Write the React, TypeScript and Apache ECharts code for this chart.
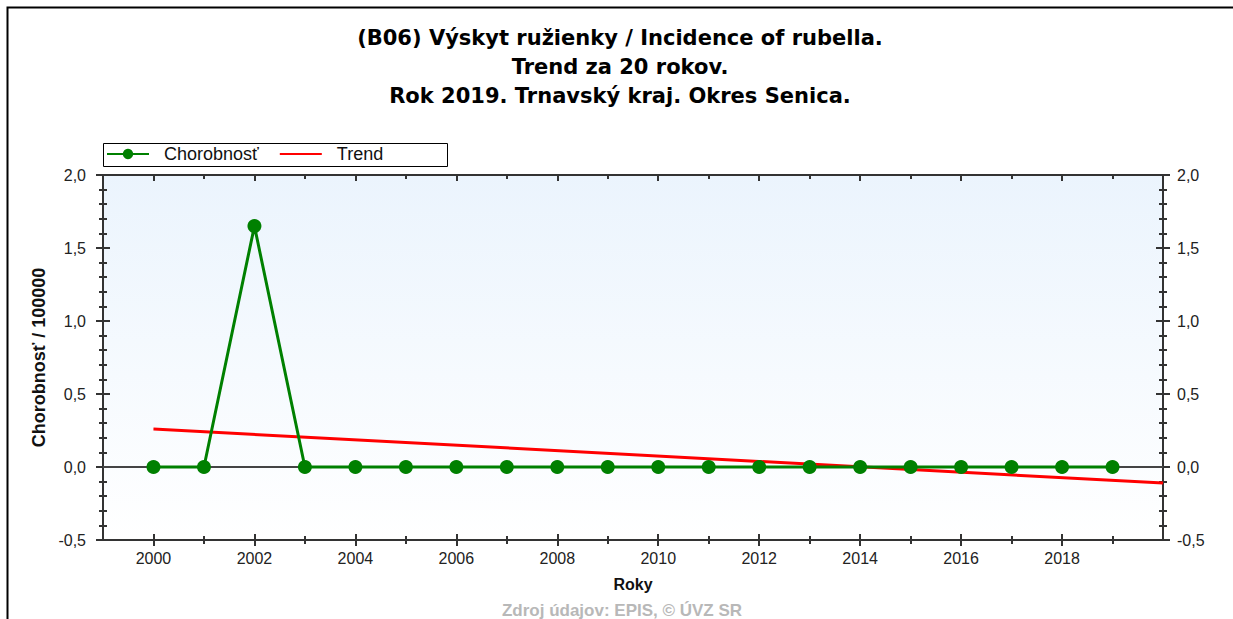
import React, { useEffect, useRef } from "react";
import * as echarts from "echarts";

const years = [2000, 2001, 2002, 2003, 2004, 2005, 2006, 2007, 2008, 2009, 2010, 2011, 2012, 2013, 2014, 2015, 2016, 2017, 2018, 2019];
const incidence = [0, 0, 1.65, 0, 0, 0, 0, 0, 0, 0, 0, 0, 0, 0, 0, 0, 0, 0, 0, 0];
const trendYears = [2000, 2020];
const trendValues = [0.26, -0.11];
const labelYears = [2000, 2002, 2004, 2006, 2008, 2010, 2012, 2014, 2016, 2018];
const minorYears = [2001, 2003, 2005, 2007, 2009, 2011, 2013, 2015, 2017, 2019];
const titleLines = [
  "(B06) Výskyt ružienky / Incidence of rubella.",
  "Trend za 20 rokov.",
  "Rok 2019. Trnavský kraj. Okres Senica.",
];

const AXIS_COLOR = "#333";
const FONT = "Liberation Sans, Arial, sans-serif";

function xAx(position: string, ticks: number[], len: number, inside: boolean, extra: any = {}) {
  return {
    type: "value",
    position,
    min: 1999,
    max: 2020,
    interval: 1,
    axisLine: { show: true, onZero: false, lineStyle: { color: AXIS_COLOR, width: 2 } },
    axisTick: { show: true, customValues: ticks, length: len, inside, lineStyle: { color: AXIS_COLOR, width: 2 } },
    axisLabel: { show: false },
    splitLine: { show: false },
    ...extra,
  };
}

function yAx(position: string, inside: boolean, extra: any = {}) {
  return {
    type: "value",
    position,
    min: -0.5,
    max: 2.0,
    interval: 0.5,
    axisLine: { show: true, onZero: false, lineStyle: { color: AXIS_COLOR, width: 2 } },
    axisTick: { show: true, length: 7, inside, lineStyle: { color: AXIS_COLOR, width: 2 } },
    minorTick: { show: true, splitNumber: 5, length: 4, lineStyle: { color: AXIS_COLOR, width: 2 } },
    axisLabel: { show: false },
    splitLine: { show: false },
    minorSplitLine: { show: false },
    ...extra,
  };
}

const yLabelBase = {
  show: true,
  fontSize: 16,
  fontFamily: FONT,
  color: "#222",
  formatter: (v: number) => v.toFixed(1).replace(".", ","),
};

export default function App() {
  const ref = useRef<HTMLDivElement>(null);
  useEffect(() => {
    if (!ref.current) return;
    const chart = echarts.init(ref.current, null, { renderer: "svg" });
    chart.setOption({
      animation: false,
      backgroundColor: "#fff",
      grid: {
        left: 103,
        right: 70,
        top: 175,
        bottom: 79,
        show: true,
        borderWidth: 0,
        backgroundColor: new echarts.graphic.LinearGradient(0, 0, 0, 1, [
          { offset: 0, color: "#ebf4fd" },
          { offset: 1, color: "#ffffff" },
        ]),
      },
      legend: {
        left: 106,
        top: 145,
        padding: 0,
        itemWidth: 42,
        itemHeight: 13,
        itemGap: 20,
        data: ["Chorobnosť", { name: "Trend", itemStyle: { opacity: 0 } }],
        textStyle: { fontSize: 18, fontFamily: FONT, color: "#111", padding: [0, 0, 0, 10] },
      },
      xAxis: [
        xAx("bottom", labelYears, 6, false, {
          name: "Roky",
          nameLocation: "middle",
          nameGap: 36,
          nameTextStyle: { fontSize: 16, fontWeight: "bold", fontFamily: FONT, color: "#111" },
          axisLabel: {
            show: true,
            customValues: labelYears,
            margin: 10,
            fontSize: 16,
            fontFamily: FONT,
            color: "#222",
            formatter: (v: number) => String(v),
          },
        }),
        xAx("bottom", labelYears, 6, true),
        xAx("bottom", minorYears, 4, false),
        xAx("bottom", minorYears, 4, true),
        xAx("top", labelYears, 6, true),
        xAx("top", minorYears, 4, true),
      ],
      yAxis: [
        yAx("left", false, {
          name: "Chorobnosť / 100000",
          nameLocation: "middle",
          nameGap: 47,
          nameTextStyle: { fontSize: 18, fontWeight: "bold", fontFamily: FONT, color: "#111" },
          axisLabel: { ...yLabelBase, margin: 17 },
        }),
        yAx("left", true),
        yAx("right", false, { axisLabel: { ...yLabelBase, margin: 14 } }),
        yAx("right", true),
      ],
      series: [
        {
          name: "Trend",
          type: "line",
          xAxisIndex: 0,
          yAxisIndex: 0,
          data: trendYears.map((y, i) => [y, trendValues[i]]),
          symbol: "none",
          lineStyle: { color: "#ff0000", width: 3 },
          itemStyle: { color: "#ff0000" },
          z: 3,
        },
        {
          name: "Chorobnosť",
          type: "line",
          xAxisIndex: 0,
          yAxisIndex: 0,
          data: years.map((y, i) => [y, incidence[i]]),
          symbol: "circle",
          symbolSize: 14,
          showSymbol: true,
          lineStyle: { color: "#008000", width: 3 },
          itemStyle: { color: "#008000" },
          z: 4,
          markLine: {
            silent: true,
            symbol: "none",
            label: { show: false },
            lineStyle: { color: "#444", width: 2, type: "solid" },
            data: [{ yAxis: 0 }],
            z: 2,
          },
        },
      ],
      graphic: [
        {
          type: "rect",
          shape: { x: 7.5, y: 7.5, width: 1400, height: 800 },
          style: { fill: "none", stroke: "#000", lineWidth: 2 },
          silent: true,
        },
        {
          type: "rect",
          shape: { x: 103.5, y: 143.5, width: 344, height: 23 },
          style: { fill: "none", stroke: "#000", lineWidth: 1 },
          silent: true,
        },
        {
          type: "text",
          x: 620,
          y: 23,
          style: {
            text: titleLines.join("\n"),
            fill: "#000",
            font: "bold 21px DejaVu Sans, Verdana, sans-serif",
            lineHeight: 29,
            textAlign: "center",
            textVerticalAlign: "top",
          },
          silent: true,
        },
        {
          type: "text",
          x: 622,
          y: 610,
          style: {
            text: "Zdroj údajov: EPIS, © ÚVZ SR",
            fill: "#b8b8b8",
            font: "bold 17px Liberation Sans, Arial, sans-serif",
            textAlign: "center",
            textVerticalAlign: "middle",
          },
          silent: true,
        },
      ],
    });
    return () => chart.dispose();
  }, []);
  return <div ref={ref} style={{ position: "fixed", left: 0, top: 0, width: 1233, height: 619 }} />;
}
